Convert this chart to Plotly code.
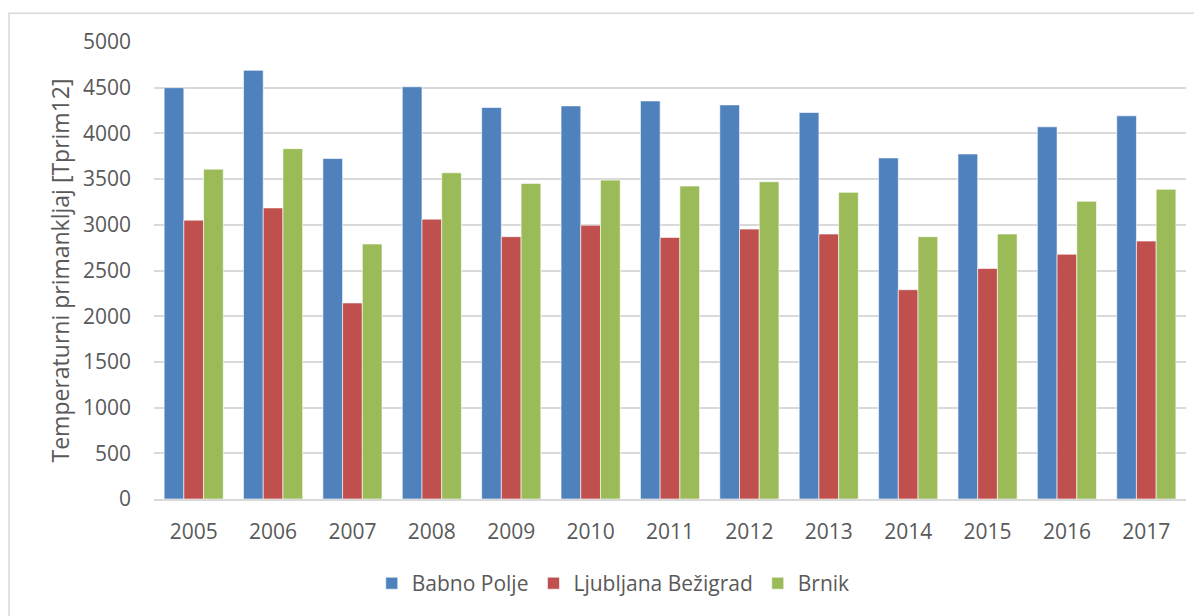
import plotly.graph_objects as go

years = ["2005", "2006", "2007", "2008", "2009", "2010", "2011",
         "2012", "2013", "2014", "2015", "2016", "2017"]
babno_polje = [4500, 4690, 3725, 4510, 4283, 4301, 4355, 4312, 4228, 3732, 3775, 4072, 4192]
ljubljana = [3051, 3185, 2145, 3062, 2870, 2996, 2862, 2953, 2899, 2290, 2522, 2678, 2822]
brnik = [3609, 3833, 2790, 3569, 3453, 3489, 3424, 3471, 3355, 2870, 2899, 3257, 3388]

series = [
    ("Babno Polje", babno_polje, "#4F81BD"),
    ("Ljubljana Bežigrad", ljubljana, "#C0504D"),
    ("Brnik", brnik, "#9BBB59"),
]

fig = go.Figure()
for name, values, color in series:
    fig.add_trace(go.Bar(
        x=years, y=values, name=name,
        marker=dict(color=color, line=dict(color="rgba(255,255,255,0.6)", width=1)),
    ))

font = dict(family="Open Sans, sans-serif", size=21, color="#595959")

# page body has an 8px margin, so the figure is 8px smaller on each axis
fig.update_layout(
    width=1194, height=608,
    margin=dict(l=146, r=16, t=34, b=114),
    paper_bgcolor="white", plot_bgcolor="white",
    barmode="group", bargap=0.255, bargroupgap=0,
    font=font,
    showlegend=True,
    legend=dict(orientation="h", x=0.445, xanchor="center", y=-0.185, yanchor="middle",
                font=font),
    xaxis=dict(showgrid=False, showline=True, linecolor="#D9D9D9", linewidth=2,
               ticks="", ticklabelstandoff=13, tickfont=font),
    yaxis=dict(range=[0, 5000], dtick=500, showgrid=True, gridcolor="#D9D9D9", gridwidth=1.5,
               zeroline=False, ticks="", ticklabelstandoff=22, tickfont=font,
               title=dict(text="Temperaturni primankljaj [Tprim12]", standoff=6,
                          font=dict(family="Open Sans, sans-serif", size=23, color="#595959"))),
    shapes=[dict(type="rect", xref="paper", yref="paper",
                 x0=(1 - 146) / 1032, x1=(1210 - 146) / 1032,
                 y0=(494 - 630) / 460, y1=(494 - 5) / 460,
                 line=dict(color="#D9D9D9", width=1.5), fillcolor="rgba(0,0,0,0)", layer="below")],
)

fig.write_html("out.html")
